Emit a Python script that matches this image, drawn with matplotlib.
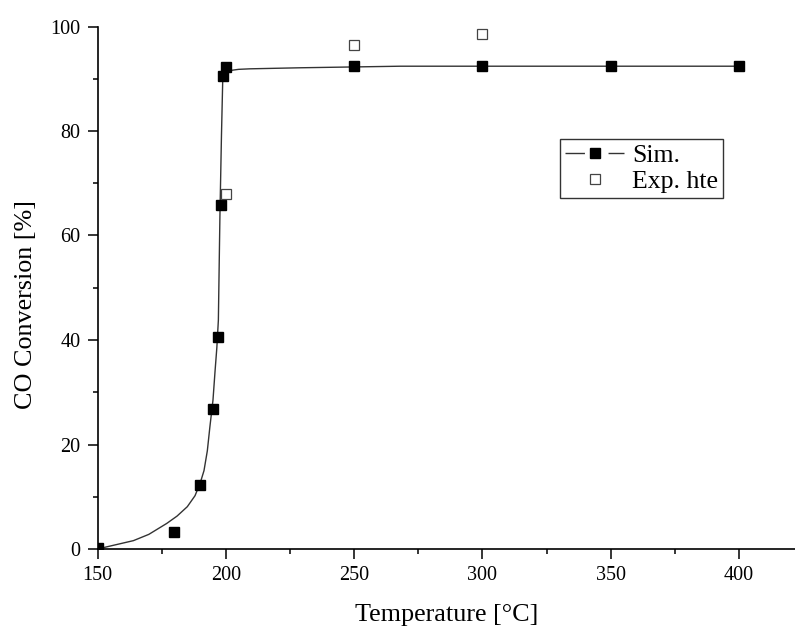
import matplotlib
matplotlib.use("Agg")
import matplotlib.pyplot as plt
from matplotlib.ticker import MultipleLocator
from matplotlib.lines import Line2D
from matplotlib.legend_handler import HandlerTuple

# Simulated data (filled squares)
sim_T = [150, 180, 190, 195, 197, 198, 199, 200, 250, 300, 350, 400]
sim_conv = [0.2, 3.2, 12.3, 26.7, 40.5, 65.9, 90.5, 92.2, 92.4, 92.4, 92.4, 92.4]

# Smooth curve
curve_T = [150, 157, 164, 170, 177, 181, 185, 188, 190, 191.5, 192.8, 193.8, 195, 195.8,
           196.5, 197.1, 197.7, 198.3, 198.8, 199.1, 199.4, 200, 202, 205, 209.4,
           229, 268, 330, 400]
curve_conv = [0, 0.8, 1.6, 2.8, 4.9, 6.3, 8.1, 10.2, 12.6, 15.0, 18.8, 23.4, 28.5, 34,
              38.5, 43.8, 63.6, 79, 89.8, 90.8, 91.2, 91.4, 91.6, 91.8, 91.9,
              92.1, 92.4, 92.4, 92.4]

# Experimental data (open squares)
exp_T = [200, 250, 300]
exp_conv = [68.0, 96.5, 98.6]

xticks = [150, 200, 250, 300, 350, 400]
yticks = [0, 20, 40, 60, 80, 100]

plt.rcParams['font.family'] = ['Liberation Serif', 'DejaVu Serif']

fig = plt.figure(figsize=(7.95, 6.29), dpi=100)
ax = fig.add_axes([97.5/795, 80/629, 1 - 97.5/795, (549-26.5)/629])

ax.plot(curve_T, curve_conv, '-', color='#333333', lw=1.0, zorder=2)
ax.plot(sim_T, sim_conv, 's', color='black', ms=7.6, mec='black', zorder=3)
ax.plot(exp_T, exp_conv, 's', mfc='white', mec='#444444', mew=0.9, ms=7.2, zorder=3)

# legend proxies
h_line = Line2D([], [], color='#333333', lw=1.0, dashes=(14, 17, 14))
h_mark = Line2D([], [], ls='none', marker='s', mfc='black', mec='black', ms=7.0)
h_exp = Line2D([], [], ls='none', marker='s', mfc='white', mec='#444444', mew=0.9, ms=7.0)
leg = ax.legend([(h_line, h_mark), h_exp], ['Sim.', 'Exp. hte'], loc='upper left',
                handler_map={tuple: HandlerTuple(ndivide=1)},
                bbox_to_anchor=((560 - 97.5) / (795 - 97.5), (549 - 139) / (549 - 26.5)),
                frameon=True, fancybox=False, fontsize=18.5, handlelength=2.3,
                handletextpad=0.3, borderpad=0.2, labelspacing=0.1, borderaxespad=0)
leg.get_frame().set_edgecolor('black')
leg.get_frame().set_linewidth(1.0)

ax.set_xlim(150, 421.8)
ax.set_ylim(0, 100)
ax.set_xticks(xticks)
ax.set_yticks(yticks)
ax.xaxis.set_minor_locator(MultipleLocator(25))
ax.yaxis.set_minor_locator(MultipleLocator(10))
ax.tick_params(which='major', direction='out', length=7.2, width=1.1, labelsize=14.5, pad=5)
ax.tick_params(which='minor', direction='out', length=3.6, width=1.1)
for s in ['top', 'right']:
    ax.spines[s].set_visible(False)
for s in ['left', 'bottom']:
    ax.spines[s].set_linewidth(1.2)

ax.set_xlabel('Temperature [°C]', fontsize=18.8, labelpad=14)
ax.set_ylabel('CO Conversion [%]', fontsize=18.8)
ax.yaxis.set_label_coords(-0.087, 0.467)

fig.savefig('out.png', dpi=100)
